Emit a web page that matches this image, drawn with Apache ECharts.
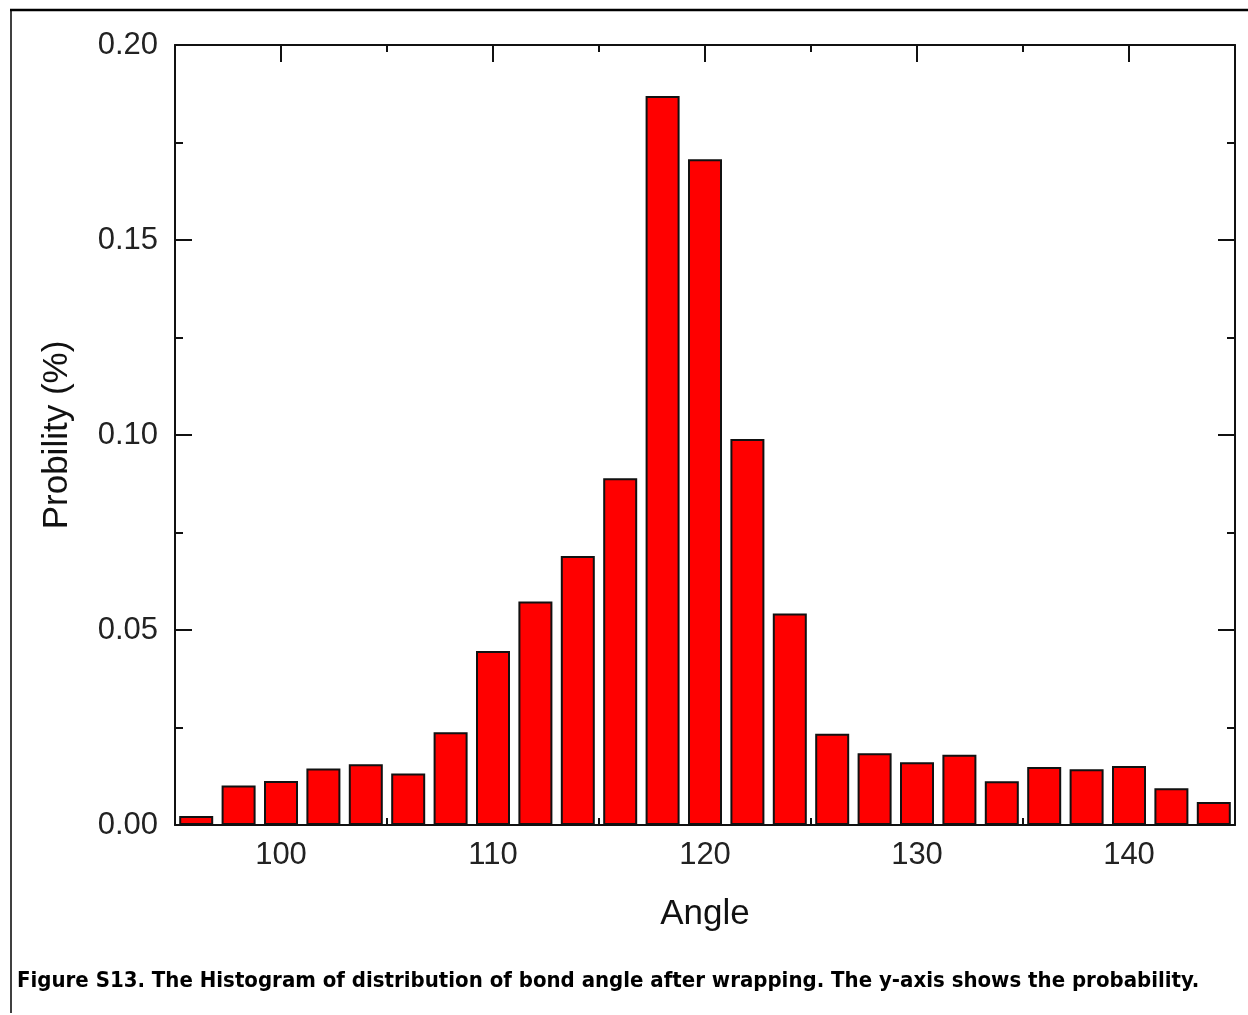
<!DOCTYPE html>
<html>
<head>
<meta charset="utf-8">
<script src="https://cdn.jsdelivr.net/npm/echarts@6/dist/echarts.min.js"></script>
<style>
  html, body { margin: 0; padding: 0; background: #fff; }
  #chart { width: 1248px; height: 1015px; }
</style>
</head>
<body>
<div id="chart"></div>
<script>
// bin centres (degrees) and probabilities
var angles = [96, 98, 100, 102, 104, 106, 108, 110, 112, 114, 116, 118, 120,
              122, 124, 126, 128, 130, 132, 134, 136, 138, 140, 142, 144];
var probs = [0.0023, 0.0101, 0.0113, 0.0145, 0.0156, 0.0132, 0.0238, 0.0446, 0.0573,
             0.0690, 0.0889, 0.1869, 0.1707, 0.0990, 0.0542, 0.0234, 0.0184, 0.0161,
             0.0180, 0.0112, 0.0149, 0.0143, 0.0151, 0.0094, 0.0059];

var xMajor = [100, 110, 120, 130, 140];
var xMinor = [105, 115, 125, 135];
var yMajor = [0, 0.05, 0.10, 0.15, 0.20];
var yMinor = [0.025, 0.075, 0.125, 0.175];

var caption = 'Figure S13. The Histogram of distribution of bond angle after wrapping. The y-axis shows the probability.';

var font = 'Liberation Sans, Arial, sans-serif';
var black = '#111';

var barData = angles.map(function (a, i) { return [a, probs[i]]; });

function xAx(pos, ticks, len, withLine, withLabel) {
  return {
    type: 'value', position: pos, min: 95, max: 145, gridIndex: 0,
    axisLine: { show: withLine, onZero: false, lineStyle: { color: black, width: 2 } },
    axisTick: { show: true, inside: true, length: len, customValues: ticks,
                lineStyle: { color: black, width: 2 } },
    axisLabel: withLabel ? { show: true, customValues: ticks, color: '#222',
                fontFamily: font, fontSize: 31, margin: 15 } : { show: false },
    splitLine: { show: false }
  };
}
function yAx(pos, ticks, len, withLine, withLabel) {
  return {
    type: 'value', position: pos, min: 0, max: 0.2, gridIndex: 0,
    axisLine: { show: withLine, onZero: false, lineStyle: { color: black, width: 2 } },
    axisTick: { show: true, inside: true, length: len, customValues: ticks,
                lineStyle: { color: black, width: 2 } },
    axisLabel: withLabel ? { show: true, customValues: ticks, color: '#222',
                fontFamily: font, fontSize: 31, margin: 17,
                formatter: function (v) { return v.toFixed(2); } } : { show: false },
    splitLine: { show: false }
  };
}

var xBottom = xAx('bottom', xMajor, 17, true, true);
xBottom.name = 'Angle';
xBottom.nameLocation = 'middle';
xBottom.nameGap = 72;
xBottom.nameTextStyle = { color: '#111', fontFamily: font, fontSize: 35 };

var yLeft = yAx('left', yMajor, 17, true, true);
yLeft.name = 'Probility (%)';
yLeft.nameLocation = 'middle';
yLeft.nameGap = 100;
yLeft.nameTextStyle = { color: '#111', fontFamily: font, fontSize: 35 };

var chart = echarts.init(document.getElementById('chart'));
chart.setOption({
  backgroundColor: '#fff',
  animation: false,
  grid: { left: 175, right: 13, top: 45, bottom: 190 },
  xAxis: [
    xBottom,
    xAx('bottom', xMinor, 7, false, false),
    xAx('top', xMajor, 17, true, false),
    xAx('top', xMinor, 7, false, false)
  ],
  yAxis: [
    yLeft,
    yAx('left', yMinor, 8, false, false),
    yAx('right', yMajor, 17, true, false),
    yAx('right', yMinor, 8, false, false)
  ],
  series: [{
    type: 'bar',
    xAxisIndex: 0,
    yAxisIndex: 0,
    barWidth: 34,
    itemStyle: { color: '#ff0000', borderColor: black, borderWidth: 2 },
    data: barData
  }],
  graphic: [
    { type: 'line', shape: { x1: 10, y1: 10, x2: 1248, y2: 10 },
      style: { stroke: '#000', lineWidth: 2.5 } },
    { type: 'line', shape: { x1: 11, y1: 9, x2: 11, y2: 1013 },
      style: { stroke: '#000', lineWidth: 1.5 } },
    { type: 'text', left: 17, top: 970,
      style: { text: caption, fill: '#000',
               font: 'bold 22px "Liberation Sans Narrow", "DejaVu Sans Condensed", sans-serif' } }
  ]
});
</script>
</body>
</html>
